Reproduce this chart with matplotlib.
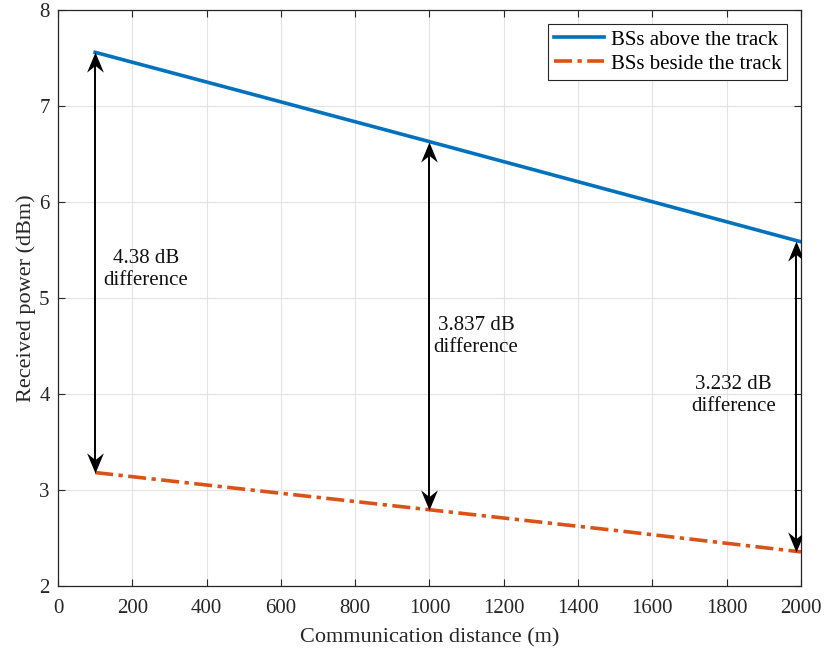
import matplotlib.pyplot as plt
from matplotlib.path import Path

plt.rcParams["font.family"] = ["Liberation Serif", "DejaVu Serif"]

# Received power vs. distance for the two base-station layouts
distance = [100, 500, 1000, 1500, 2000]
above_track = [7.563, 7.15, 6.632, 6.11, 5.588]
beside_track = [3.183, 3.01, 2.795, 2.58, 2.356]

# Gap annotations between the two curves
gap_x = [100, 1000, 1987]
gap_above = [7.563, 6.632, 5.592]
gap_beside = [3.183, 2.795, 2.357]
gap_labels = ["4.38 dB\ndifference", "3.837 dB\ndifference", "3.232 dB\ndifference"]
label_x = [237, 1125, 1819]
label_y = [5.30, 4.60, 3.99]

# notched arrowhead, tip at the origin
head_up = Path([(0, 0), (-7.5, -18), (0, -12), (7.5, -18), (0, 0)],
               [Path.MOVETO, Path.LINETO, Path.LINETO, Path.LINETO, Path.CLOSEPOLY])
head_down = Path([(0, 0), (-7.5, 18), (0, 12), (7.5, 18), (0, 0)],
                 [Path.MOVETO, Path.LINETO, Path.LINETO, Path.LINETO, Path.CLOSEPOLY])

fig = plt.figure(figsize=(8.24, 6.49), dpi=100)
ax = fig.add_axes([0.0704, 0.097, 0.9016, 0.887])

ax.plot(distance, above_track, color="#0072BD", lw=2.6, label="BSs above the track")
ax.plot(distance, beside_track, color="#D95319", lw=2.6, ls=(0, (5, 1.5, 1.2, 1.5)),
        label="BSs beside the track")

for x, top, bot in zip(gap_x, gap_above, gap_beside):
    ax.plot([x, x], [top - 0.1, bot + 0.1], color="black", lw=1.4, zorder=4)
    ax.plot(x, top, marker=head_up, ms=29, color="black", mew=0, zorder=5)
    ax.plot(x, bot, marker=head_down, ms=29, color="black", mew=0, zorder=5)

for x, y, txt in zip(label_x, label_y, gap_labels):
    ax.text(x, y, txt, ha="center", va="center", fontsize=15, color="#111111")

ax.set_xlim(0, 2000)
ax.set_ylim(2, 8)
ax.set_xticks(range(0, 2001, 200))
ax.set_yticks(range(2, 9))
ax.tick_params(direction="in", labelsize=15, color="#262626", labelcolor="#262626",
               top=True, right=True, length=5)
ax.tick_params(axis="x", pad=9)
ax.tick_params(axis="y", pad=6)
ax.grid(True, color="#e3e3e3", lw=0.8)
for s in ax.spines.values():
    s.set_color("#262626")
    s.set_linewidth(0.9)

ax.set_xlabel("Communication distance (m)", fontsize=16, color="#262626", labelpad=8)
ax.set_ylabel("Received power (dBm)", fontsize=16, color="#262626", labelpad=2)

leg = ax.legend(loc="upper right", fontsize=15, fancybox=False, framealpha=1,
                edgecolor="#262626", handlelength=2.4, handletextpad=0.3,
                borderaxespad=0.65, labelspacing=0.2, borderpad=0.3)
leg.get_frame().set_linewidth(0.8)

fig.savefig("out.png", dpi=100)
